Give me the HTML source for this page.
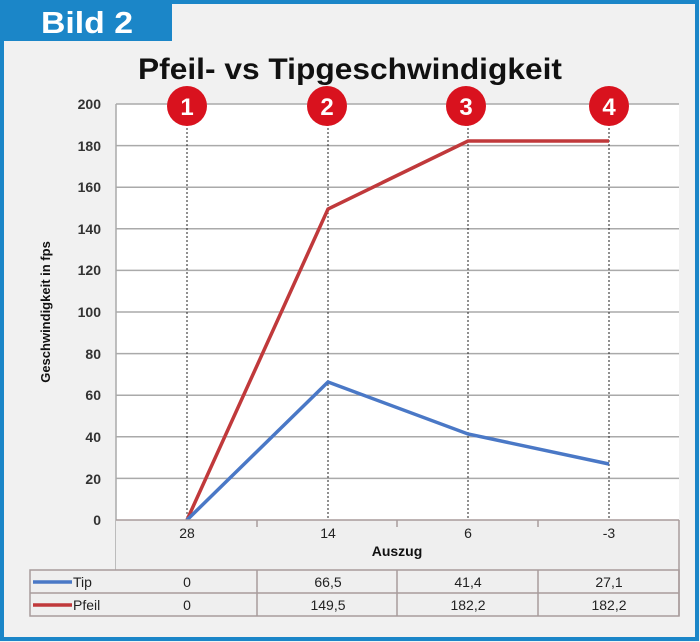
<!DOCTYPE html>
<html><head><meta charset="utf-8"><style>
html,body{margin:0;padding:0;background:#f2f2f2}
svg{display:block;font-family:"Liberation Sans",Arial,sans-serif}
</style></head><body>
<svg width="700" height="642" viewBox="0 0 700 642" xmlns="http://www.w3.org/2000/svg">
<rect x="0" y="0" width="700" height="642" fill="#f1f1f1"/>
<rect x="2" y="2" width="695" height="637" fill="none" stroke="#1b86c8" stroke-width="4"/>
<rect x="0" y="0" width="172" height="41" fill="#1b86c8"/>
<text x="87" y="33" font-size="31" font-weight="bold" fill="#fff" text-anchor="middle" textLength="92" lengthAdjust="spacingAndGlyphs">Bild 2</text>
<text x="350" y="79" font-size="30" font-weight="bold" fill="#111" text-anchor="middle" textLength="424" lengthAdjust="spacingAndGlyphs">Pfeil- vs  Tipgeschwindigkeit</text>
<rect x="116" y="104" width="563" height="416" fill="#fff"/>
<g stroke="#aaa" stroke-width="1.5">
<line x1="116" y1="104" x2="679" y2="104"/>
<line x1="116" y1="145.6" x2="679" y2="145.6"/>
<line x1="116" y1="187.2" x2="679" y2="187.2"/>
<line x1="116" y1="228.8" x2="679" y2="228.8"/>
<line x1="116" y1="270.4" x2="679" y2="270.4"/>
<line x1="116" y1="312" x2="679" y2="312"/>
<line x1="116" y1="353.6" x2="679" y2="353.6"/>
<line x1="116" y1="395.2" x2="679" y2="395.2"/>
<line x1="116" y1="436.8" x2="679" y2="436.8"/>
<line x1="116" y1="478.4" x2="679" y2="478.4"/>
<line x1="116" y1="104" x2="116" y2="616"/>
</g>
<g font-size="14" font-weight="bold" fill="#333" text-anchor="end">
<text x="101" y="109">200</text><text x="101" y="151">180</text><text x="101" y="192">160</text>
<text x="101" y="234">140</text><text x="101" y="275">120</text><text x="101" y="317">100</text>
<text x="101" y="359">80</text><text x="101" y="400">60</text><text x="101" y="442">40</text>
<text x="101" y="484">20</text><text x="101" y="525">0</text>
</g>
<text transform="translate(50,312) rotate(-90)" font-size="13" font-weight="bold" fill="#111" text-anchor="middle">Geschwindigkeit in fps</text>
<g stroke="#222" stroke-width="1" stroke-dasharray="2,2">
<line x1="187" y1="120" x2="187" y2="520"/><line x1="328" y1="120" x2="328" y2="520"/>
<line x1="468" y1="120" x2="468" y2="520"/><line x1="609" y1="120" x2="609" y2="520"/>
</g>
<polyline points="187,520 328,209 468,141 609,141" fill="none" stroke="#c0393b" stroke-width="3.5"/>
<polyline points="187,520 328,382 468,434 609,464" fill="none" stroke="#4a78c6" stroke-width="3.5"/>
<g fill="#d9121e"><circle cx="187" cy="106" r="20"/><circle cx="327" cy="106" r="20"/><circle cx="466" cy="106" r="20"/><circle cx="609" cy="106" r="20"/></g>
<g font-size="24" font-weight="bold" fill="#fff" text-anchor="middle">
<text x="187" y="115">1</text><text x="327" y="115">2</text><text x="466" y="115">3</text><text x="609" y="115">4</text></g>
<rect x="116" y="520" width="563" height="96" fill="#efefef"/>
<rect x="30" y="570" width="86" height="46" fill="#efefef"/>
<g stroke="#a89c9c" stroke-width="1.5" fill="none">
<line x1="116" y1="520" x2="679" y2="520"/>
<line x1="679" y1="520" x2="679" y2="616"/>
<line x1="257" y1="520" x2="257" y2="527"/><line x1="397" y1="520" x2="397" y2="527"/><line x1="538" y1="520" x2="538" y2="527"/>
<rect x="30" y="570" width="649" height="46"/>
<line x1="30" y1="593" x2="679" y2="593"/>
<line x1="257" y1="570" x2="257" y2="616"/><line x1="397" y1="570" x2="397" y2="616"/><line x1="538" y1="570" x2="538" y2="616"/>
</g>
<g font-size="14" fill="#222" text-anchor="middle">
<text x="187" y="538">28</text><text x="328" y="538">14</text><text x="468" y="538">6</text><text x="609" y="538">-3</text>
<text x="187" y="587">0</text><text x="328" y="587">66,5</text><text x="468" y="587">41,4</text><text x="609" y="587">27,1</text>
<text x="187" y="610">0</text><text x="328" y="610">149,5</text><text x="468" y="610">182,2</text><text x="609" y="610">182,2</text>
</g>
<text x="397" y="556" font-size="14" font-weight="bold" fill="#111" text-anchor="middle">Auszug</text>
<line x1="33" y1="582" x2="72" y2="582" stroke="#4a78c6" stroke-width="3.5"/>
<line x1="33" y1="605" x2="72" y2="605" stroke="#c0393b" stroke-width="3.5"/>
<text x="73" y="587" font-size="14" fill="#222">Tip</text>
<text x="73" y="610" font-size="14" fill="#222">Pfeil</text>
</svg>
</body></html>
